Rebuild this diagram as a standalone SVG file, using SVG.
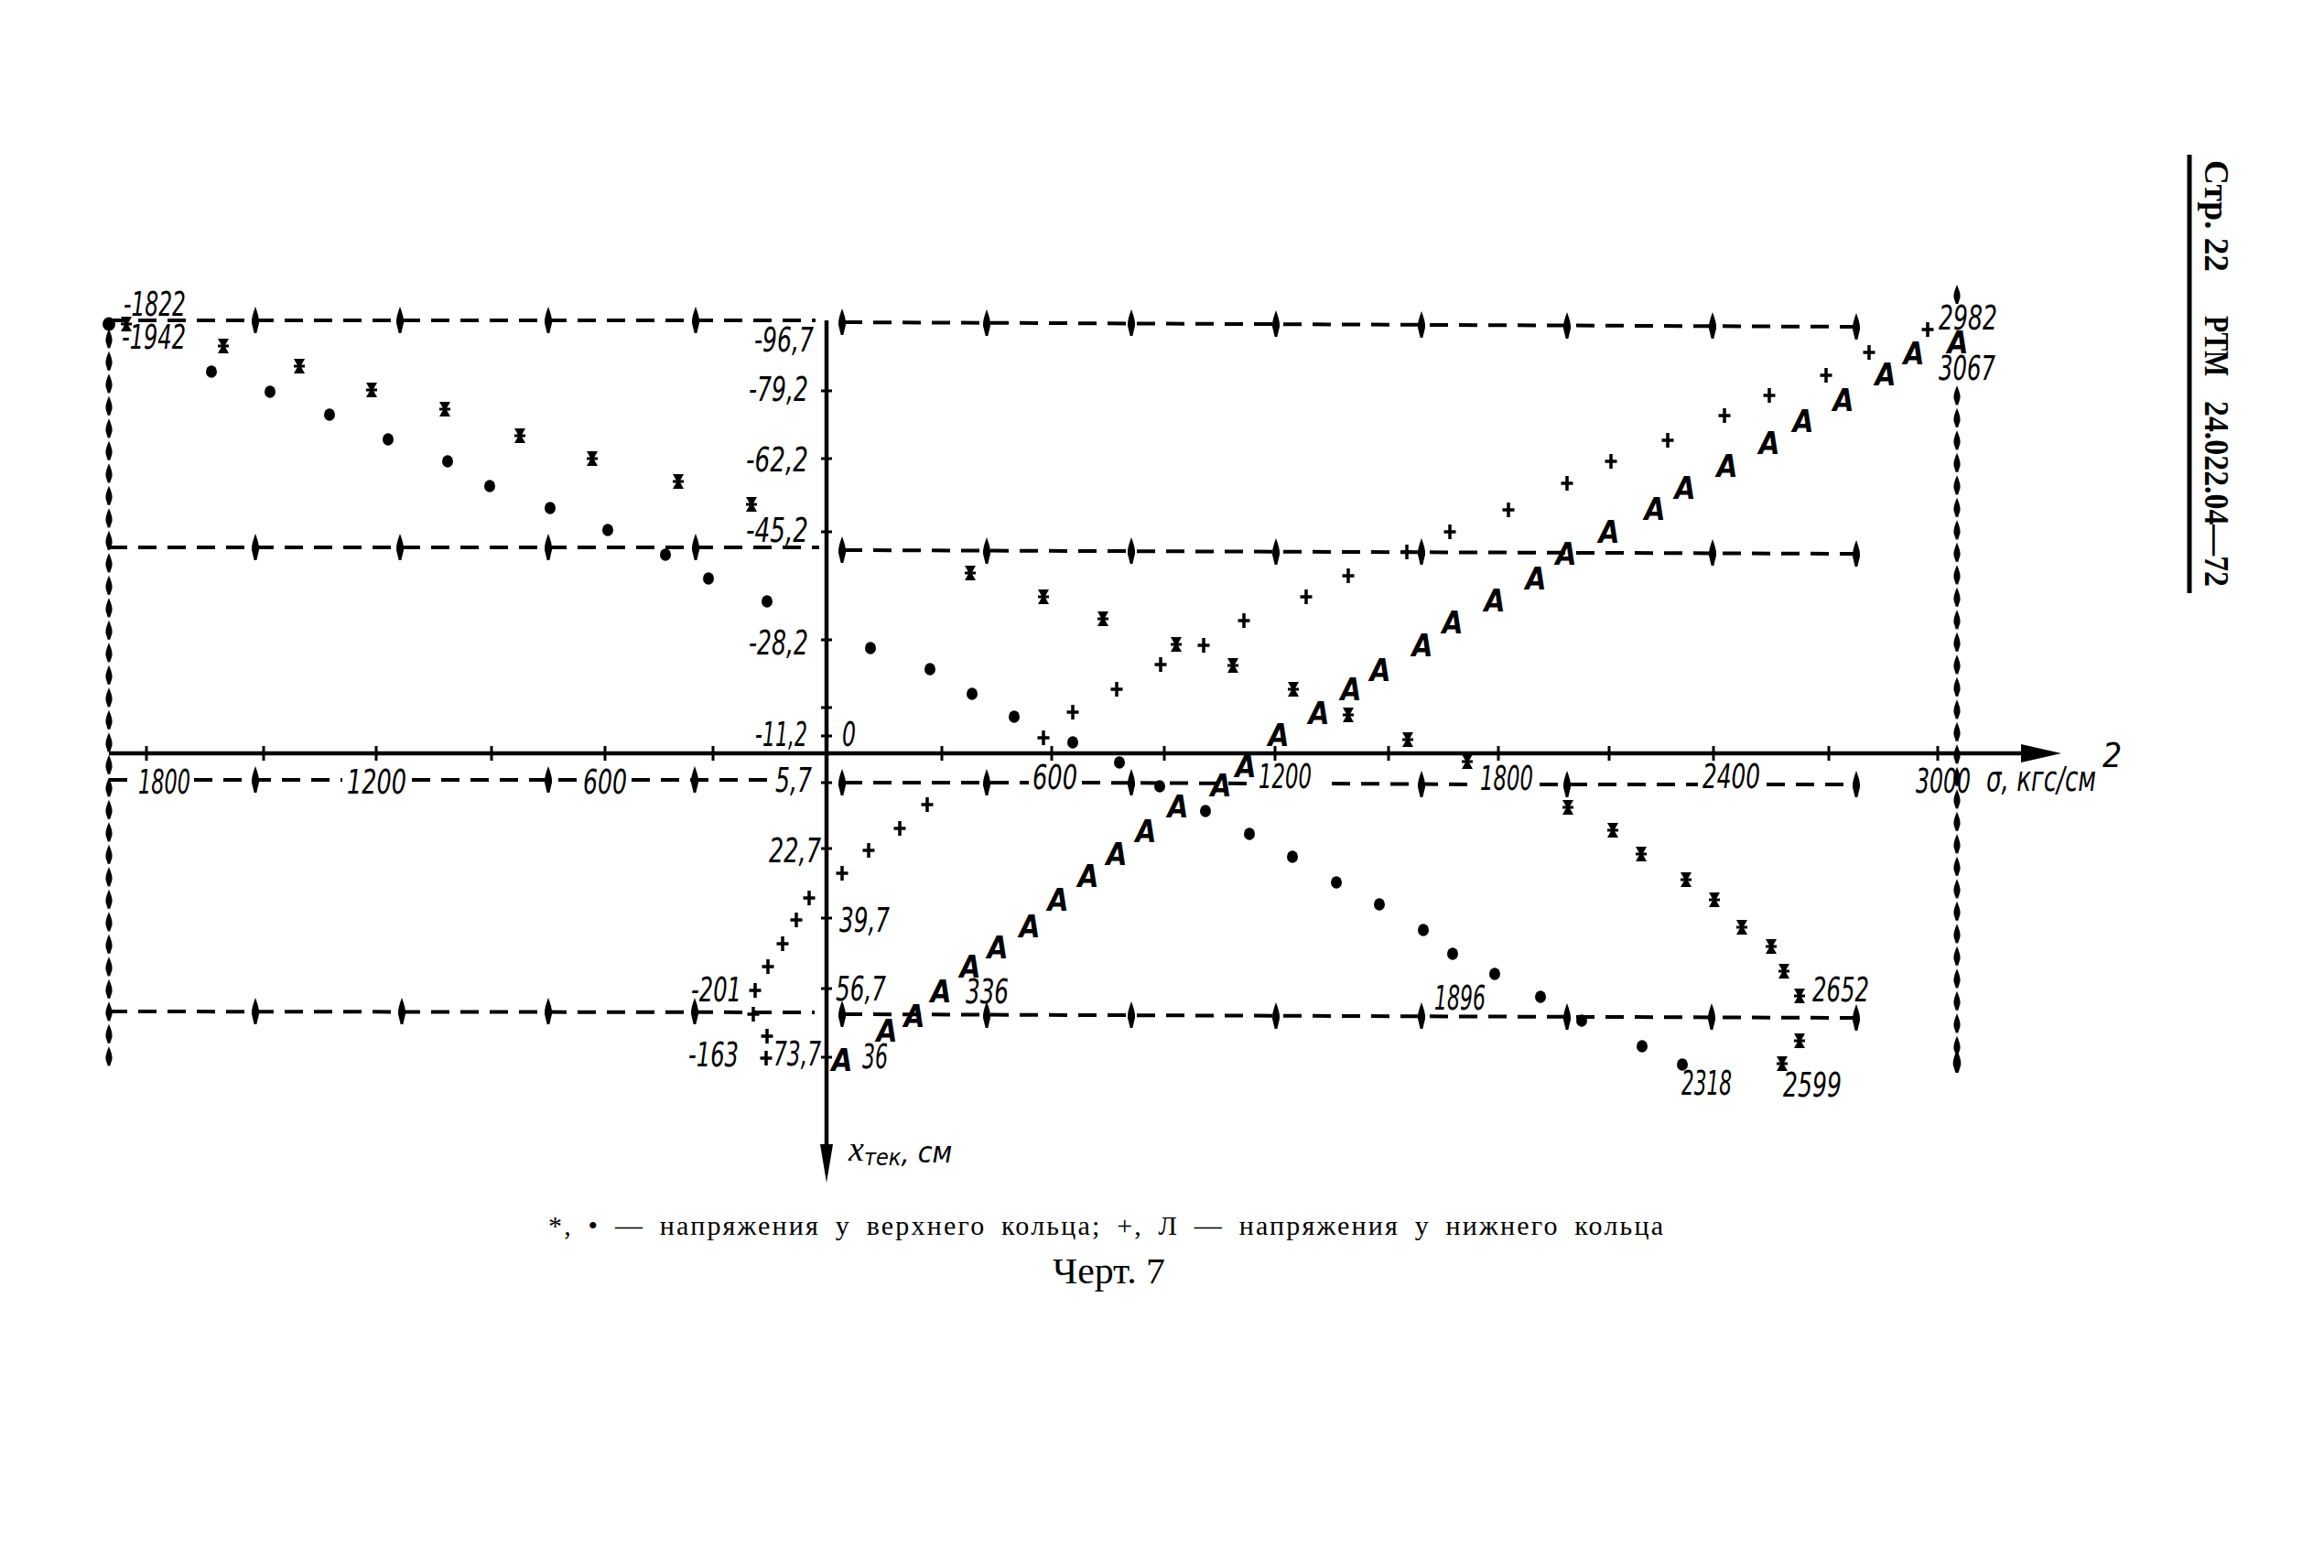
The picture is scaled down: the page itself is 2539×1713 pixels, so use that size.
<svg xmlns="http://www.w3.org/2000/svg" xmlns:xlink="http://www.w3.org/1999/xlink" width="2539" height="1713" viewBox="0 0 2539 1713">
<defs>
<style>
.lbl{font-family:"DejaVu Sans Condensed","DejaVu Sans","Liberation Sans",sans-serif;font-style:italic;font-size:37px;fill:#000}
.mA{font-family:"DejaVu Sans Condensed","DejaVu Sans",sans-serif;font-style:italic;font-weight:bold;font-size:33px;fill:#000;text-anchor:middle}
.dash{stroke:#000;stroke-width:4;stroke-dasharray:20 12;fill:none}
.axis{stroke:#000;stroke-width:4.5;fill:none}
.tick{stroke:#000;stroke-width:3;fill:none}
.plus{stroke:#000;stroke-width:3.5;fill:none}
.cap{font-family:"Liberation Serif","Times New Roman",serif;fill:#000}
</style>
<path id="sp" d="M0,-15 C2.5,-8 4.5,-2 4,3 L1.3,14 L-1.3,14 L-4,3 C-4.5,-2 -2.5,-8 0,-15 Z" fill="#000"/>
<path id="vs" d="M0,-11 C2.5,-5 4,-1 3.5,3 L1.3,10 L-1.3,10 L-3.5,3 C-4,-1 -2.5,-5 0,-11 Z" fill="#000"/>
<ellipse id="dot" rx="6" ry="6.8" fill="#000"/>
<g id="star"><path d="M-6,-8 L6,-8 L1.5,0 L6,8 L-6,8 L-1.5,0 Z" fill="#000"/><path d="M-6,0 H6" stroke="#000" stroke-width="3"/></g>
<path id="plus" class="plus" d="M-6.5,0 H6.5 M0,-8 V8"/>
<pattern id="vpatL" patternUnits="userSpaceOnUse" x="114" y="358" width="10" height="24.5"><use href="#vs" x="5" y="12.25"/></pattern>
<pattern id="vpatR" patternUnits="userSpaceOnUse" x="2133" y="420" width="10" height="24.5"><use href="#vs" x="5" y="12.25"/></pattern>
</defs>
<rect width="2539" height="1713" fill="#fff"/>

<g id="grid-lines">
  <rect x="114" y="358" width="10" height="808" fill="url(#vpatL)"/>
  <use href="#vs" x="2138" y="322"/>
  <rect x="2133" y="420" width="10" height="735" fill="url(#vpatR)"/>
  <use href="#vs" x="2138" y="1160" transform="translate(2138 1160) scale(1.2) translate(-2138 -1160)"/>

  <line class="dash" x1="119" y1="350" x2="891" y2="350"/>
  <line class="dash" x1="922" y1="352" x2="2028" y2="357"/>
  <line class="dash" x1="119" y1="598" x2="895" y2="598"/>
  <line class="dash" x1="922" y1="601" x2="2028" y2="605"/>
  <line class="dash" x1="119" y1="852" x2="146" y2="852"/>
  <line class="dash" x1="212" y1="852" x2="374" y2="852"/>
  <line class="dash" x1="450" y1="852" x2="632" y2="852"/>
  <line class="dash" x1="690" y1="852" x2="838" y2="852"/>
  <line class="dash" x1="922" y1="855" x2="1124" y2="855"/>
  <line class="dash" x1="1182" y1="855" x2="1368" y2="856"/>
  <line class="dash" x1="1455" y1="856" x2="1610" y2="857"/>
  <line class="dash" x1="1682" y1="857" x2="1855" y2="857"/>
  <line class="dash" x1="1930" y1="857" x2="2028" y2="857"/>
  <line class="dash" x1="119" y1="1105" x2="890" y2="1106"/>
  <line class="dash" x1="922" y1="1108" x2="2028" y2="1112"/>

  <g id="spindles">
    <use href="#sp" x="279" y="350"/><use href="#sp" x="437" y="350"/><use href="#sp" x="599" y="350"/><use href="#sp" x="760" y="350"/>
    <use href="#sp" x="920" y="352"/><use href="#sp" x="1078" y="353"/><use href="#sp" x="1236" y="353"/><use href="#sp" x="1394" y="354"/><use href="#sp" x="1553" y="355"/><use href="#sp" x="1712" y="356"/><use href="#sp" x="1871" y="356"/><use href="#sp" x="2028" y="357"/>
    <use href="#sp" x="279" y="598"/><use href="#sp" x="437" y="598"/><use href="#sp" x="599" y="598"/><use href="#sp" x="760" y="598"/>
    <use href="#sp" x="920" y="601"/><use href="#sp" x="1078" y="602"/><use href="#sp" x="1236" y="602"/><use href="#sp" x="1394" y="603"/><use href="#sp" x="1553" y="603"/><use href="#sp" x="1871" y="604"/><use href="#sp" x="2028" y="605"/>
    <use href="#sp" x="279" y="852"/><use href="#sp" x="599" y="852"/><use href="#sp" x="759" y="852"/>
    <use href="#sp" x="920" y="855"/><use href="#sp" x="1078" y="855"/><use href="#sp" x="1236" y="855"/><use href="#sp" x="1553" y="857"/><use href="#sp" x="1712" y="857"/><use href="#sp" x="2028" y="857"/>
    <use href="#sp" x="279" y="1105"/><use href="#sp" x="439" y="1105"/><use href="#sp" x="599" y="1105"/><use href="#sp" x="759" y="1105"/>
    <use href="#sp" x="920" y="1108"/><use href="#sp" x="1078" y="1109"/><use href="#sp" x="1236" y="1109"/><use href="#sp" x="1394" y="1110"/><use href="#sp" x="1553" y="1110"/><use href="#sp" x="1712" y="1111"/><use href="#sp" x="1870" y="1111"/><use href="#sp" x="2028" y="1112"/>
  </g>
</g>

<g id="axes">
  <line class="axis" x1="119" y1="823" x2="2220" y2="823"/>
  <polygon points="2208,813 2252,823 2208,833" fill="#000"/>
  <line class="axis" x1="903" y1="350" x2="903" y2="1260"/>
  <polygon points="896,1250 910,1250 903,1292" fill="#000"/>
  <path class="tick" d="M160,815V831 M288,815V831 M411,815V831 M537,815V831 M661,815V831 M779,815V831 M1029,815V831 M1149,815V831 M1272,815V831 M1393,815V831 M1517,815V831 M1637,815V831 M1758,815V831 M1872,815V831 M1998,815V831 M2117,815V831"/>
  <path class="tick" d="M897,427H909 M897,501H909 M897,581H909 M897,699H909 M897,773H909 M897,804H909 M897,855H909 M897,927H909 M897,1003H909 M897,1080H909 M897,1155H909"/>
</g>

<g id="series-dots">
  <ellipse cx="119" cy="354" rx="7" ry="7.5" fill="#000"/>
  <use href="#dot" x="231" y="406"/><use href="#dot" x="295" y="428"/><use href="#dot" x="360" y="453"/><use href="#dot" x="424" y="480"/><use href="#dot" x="489" y="504"/><use href="#dot" x="535" y="531"/><use href="#dot" x="601" y="555"/><use href="#dot" x="664" y="579"/><use href="#dot" x="727" y="606"/><use href="#dot" x="774" y="632"/><use href="#dot" x="838" y="657"/>
  <use href="#dot" x="951" y="708"/><use href="#dot" x="1016" y="731"/><use href="#dot" x="1062" y="758"/><use href="#dot" x="1108" y="783"/><use href="#dot" x="1172" y="811"/><use href="#dot" x="1223" y="833"/><use href="#dot" x="1267" y="859"/><use href="#dot" x="1317" y="886"/><use href="#dot" x="1365" y="911"/><use href="#dot" x="1412" y="936"/><use href="#dot" x="1460" y="964"/><use href="#dot" x="1507" y="988"/><use href="#dot" x="1555" y="1016"/><use href="#dot" x="1587" y="1042"/><use href="#dot" x="1633" y="1064"/><use href="#dot" x="1683" y="1089"/><use href="#dot" x="1728" y="1115"/><use href="#dot" x="1794" y="1143"/><use href="#dot" x="1838" y="1163"/>
</g>

<g id="series-stars">
  <use href="#star" x="138" y="354"/>
  <use href="#star" x="244" y="378"/><use href="#star" x="327" y="400"/><use href="#star" x="406" y="426"/><use href="#star" x="486" y="447"/><use href="#star" x="568" y="476"/><use href="#star" x="647" y="501"/><use href="#star" x="741" y="526"/><use href="#star" x="821" y="551"/>
  <use href="#star" x="1060" y="626"/><use href="#star" x="1140" y="652"/><use href="#star" x="1205" y="676"/><use href="#star" x="1285" y="704"/><use href="#star" x="1347" y="727"/><use href="#star" x="1413" y="753"/><use href="#star" x="1473" y="781"/><use href="#star" x="1538" y="808"/><use href="#star" x="1603" y="832"/><use href="#star" x="1713" y="882"/><use href="#star" x="1762" y="907"/><use href="#star" x="1793" y="933"/><use href="#star" x="1842" y="961"/><use href="#star" x="1873" y="983"/><use href="#star" x="1903" y="1013"/><use href="#star" x="1935" y="1034"/><use href="#star" x="1949" y="1061"/><use href="#star" x="1966" y="1088"/><use href="#star" x="1966" y="1137"/><use href="#star" x="1947" y="1162"/>
</g>

<g id="series-plus">
  <use href="#plus" x="884" y="981"/><use href="#plus" x="870" y="1005"/><use href="#plus" x="855" y="1031"/><use href="#plus" x="839" y="1056"/><use href="#plus" x="825" y="1082"/><use href="#plus" x="823" y="1108"/><use href="#plus" x="838" y="1132"/><use href="#plus" x="837" y="1156"/>
  <use href="#plus" x="920" y="954"/><use href="#plus" x="949" y="929"/><use href="#plus" x="983" y="905"/><use href="#plus" x="1013" y="879"/><use href="#plus" x="1140" y="806"/><use href="#plus" x="1172" y="778"/><use href="#plus" x="1220" y="753"/><use href="#plus" x="1268" y="726"/><use href="#plus" x="1315" y="705"/><use href="#plus" x="1359" y="678"/><use href="#plus" x="1427" y="652"/><use href="#plus" x="1473" y="629"/><use href="#plus" x="1537" y="603"/><use href="#plus" x="1584" y="581"/><use href="#plus" x="1648" y="557"/><use href="#plus" x="1712" y="528"/><use href="#plus" x="1760" y="504"/><use href="#plus" x="1822" y="481"/><use href="#plus" x="1884" y="454"/><use href="#plus" x="1933" y="432"/><use href="#plus" x="1995" y="410"/><use href="#plus" x="2042" y="385"/><use href="#plus" x="2106" y="360"/>
</g>

<g id="series-A">
  <text class="mA" x="920" y="1170">A</text><text class="mA" x="969" y="1138">A</text><text class="mA" x="999" y="1122">A</text><text class="mA" x="1028" y="1095">A</text><text class="mA" x="1060" y="1068">A</text><text class="mA" x="1090" y="1047">A</text><text class="mA" x="1125" y="1024">A</text><text class="mA" x="1156" y="995">A</text><text class="mA" x="1189" y="969">A</text><text class="mA" x="1220" y="945">A</text><text class="mA" x="1252" y="920">A</text><text class="mA" x="1287" y="893">A</text><text class="mA" x="1334" y="870">A</text><text class="mA" x="1361" y="849">A</text><text class="mA" x="1397" y="815">A</text>
  <text class="mA" x="1441" y="791">A</text><text class="mA" x="1476" y="765">A</text><text class="mA" x="1508" y="744">A</text><text class="mA" x="1554" y="717">A</text><text class="mA" x="1587" y="692">A</text><text class="mA" x="1633" y="668">A</text><text class="mA" x="1678" y="644">A</text><text class="mA" x="1711" y="617">A</text><text class="mA" x="1758" y="593">A</text><text class="mA" x="1808" y="568">A</text><text class="mA" x="1841" y="545">A</text><text class="mA" x="1887" y="521">A</text><text class="mA" x="1933" y="496">A</text><text class="mA" x="1970" y="472">A</text><text class="mA" x="2014" y="449">A</text><text class="mA" x="2060" y="421">A</text><text class="mA" x="2091" y="398">A</text><text class="mA" x="2139" y="386">A</text>
</g>

<g id="labels">
  <text class="lbl" x="135" y="345" textLength="68" lengthAdjust="spacingAndGlyphs">-1822</text>
  <text class="lbl" x="133" y="381" textLength="70" lengthAdjust="spacingAndGlyphs">-1942</text>
  <text class="lbl" x="824" y="384" textLength="65" lengthAdjust="spacingAndGlyphs">-96,7</text>
  <text class="lbl" x="818" y="438" textLength="65" lengthAdjust="spacingAndGlyphs">-79,2</text>
  <text class="lbl" x="815" y="515" textLength="68" lengthAdjust="spacingAndGlyphs">-62,2</text>
  <text class="lbl" x="815" y="592" textLength="68" lengthAdjust="spacingAndGlyphs">-45,2</text>
  <text class="lbl" x="818" y="715" textLength="65" lengthAdjust="spacingAndGlyphs">-28,2</text>
  <text class="lbl" x="825" y="815" textLength="57" lengthAdjust="spacingAndGlyphs">-11,2</text>
  <text class="lbl" x="920" y="815" textLength="15" lengthAdjust="spacingAndGlyphs">0</text>
  <text class="lbl" x="847" y="865" textLength="40" lengthAdjust="spacingAndGlyphs">5,7</text>
  <text class="lbl" x="840" y="942" textLength="57" lengthAdjust="spacingAndGlyphs">22,7</text>
  <text class="lbl" x="917" y="1018" textLength="55" lengthAdjust="spacingAndGlyphs">39,7</text>
  <text class="lbl" x="913" y="1093" textLength="55" lengthAdjust="spacingAndGlyphs">56,7</text>
  <text class="lbl" x="845" y="1164" textLength="52" lengthAdjust="spacingAndGlyphs">73,7</text>
  <text class="lbl" x="755" y="1094" textLength="55" lengthAdjust="spacingAndGlyphs">-201</text>
  <text class="lbl" x="752" y="1165" textLength="55" lengthAdjust="spacingAndGlyphs">-163</text>
  <text class="lbl" x="942" y="1167" textLength="28" lengthAdjust="spacingAndGlyphs">36</text>
  <text class="lbl" x="1055" y="1096" textLength="47" lengthAdjust="spacingAndGlyphs">336</text>
  <text class="lbl" x="1567" y="1103" textLength="56" lengthAdjust="spacingAndGlyphs">1896</text>
  <text class="lbl" x="1837" y="1196" textLength="55" lengthAdjust="spacingAndGlyphs">2318</text>
  <text class="lbl" x="1948" y="1198" textLength="64" lengthAdjust="spacingAndGlyphs">2599</text>
  <text class="lbl" x="1980" y="1094" textLength="62" lengthAdjust="spacingAndGlyphs">2652</text>
  <text class="lbl" x="2118" y="360" textLength="64" lengthAdjust="spacingAndGlyphs">2982</text>
  <text class="lbl" x="2118" y="415" textLength="62" lengthAdjust="spacingAndGlyphs">3067</text>
  <text class="lbl" x="151" y="867" textLength="57" lengthAdjust="spacingAndGlyphs">1800</text>
  <text class="lbl" x="379" y="867" textLength="65" lengthAdjust="spacingAndGlyphs">1200</text>
  <text class="lbl" x="637" y="867" textLength="48" lengthAdjust="spacingAndGlyphs">600</text>
  <text class="lbl" x="1128" y="862" textLength="49" lengthAdjust="spacingAndGlyphs">600</text>
  <text class="lbl" x="1375" y="861" textLength="58" lengthAdjust="spacingAndGlyphs">1200</text>
  <text class="lbl" x="1617" y="863" textLength="58" lengthAdjust="spacingAndGlyphs">1800</text>
  <text class="lbl" x="1860" y="861" textLength="63" lengthAdjust="spacingAndGlyphs">2400</text>
  <text class="lbl" x="2093" y="866" textLength="60" lengthAdjust="spacingAndGlyphs">3000</text>
  <text class="lbl" x="2170" y="864" textLength="120" lengthAdjust="spacingAndGlyphs">σ, кгс/см</text>
  <text class="lbl" x="2297" y="838" font-size="21">2</text>
  <text class="lbl" x="927" y="1268"><tspan font-family="Liberation Serif" font-size="38">x</tspan><tspan font-size="25" dy="5">тек</tspan><tspan font-size="32" dy="-3">, см</tspan></text>
</g>

<g id="caption">
  <text class="cap" x="599" y="1349" font-size="30" word-spacing="7" textLength="1218" lengthAdjust="spacing">*, • — напряжения у верхнего кольца; +, Л — напряжения у нижнего кольца</text>
  <text class="cap" x="1150" y="1402" font-size="40" textLength="123" lengthAdjust="spacingAndGlyphs">Черт. 7</text>
</g>

<g id="header">
  <line x1="2392" y1="169" x2="2392" y2="648" stroke="#000" stroke-width="5"/>
  <text class="cap" font-size="38" font-weight="bold" transform="translate(2409 175) rotate(90)" textLength="122" lengthAdjust="spacingAndGlyphs">Стр. 22</text>
  <text class="cap" font-size="38" font-weight="bold" transform="translate(2409 345) rotate(90)" textLength="66" lengthAdjust="spacingAndGlyphs">РТМ</text>
  <text class="cap" font-size="38" font-weight="bold" transform="translate(2409 438) rotate(90)" textLength="203" lengthAdjust="spacingAndGlyphs">24.022.04—72</text>
</g>
</svg>
